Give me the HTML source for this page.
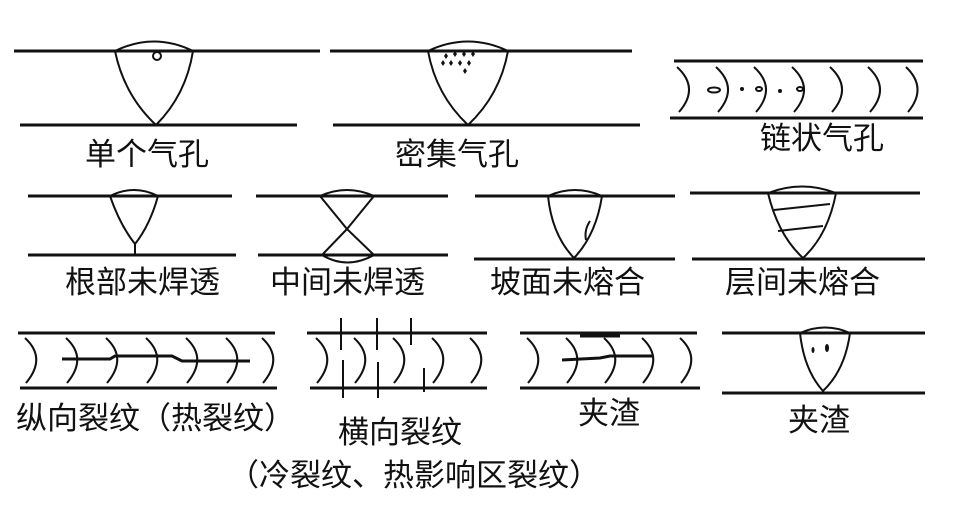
<!DOCTYPE html>
<html><head><meta charset="utf-8"><style>
html,body{margin:0;padding:0;background:#fff;}
svg{display:block;}
text{font-family:"Liberation Sans","Noto Sans CJK SC",sans-serif;font-size:31px;fill:#111;}
</style></head><body>
<svg width="979" height="525" viewBox="0 0 979 525" xmlns="http://www.w3.org/2000/svg">
<g stroke="#111" fill="none" stroke-width="3">
<line x1="14" y1="51" x2="320" y2="51"/>
<line x1="20" y1="125" x2="297" y2="125"/>
<line x1="330" y1="51" x2="632" y2="51"/>
<line x1="333" y1="125" x2="640" y2="125"/>
</g>
<g stroke="#111" fill="none" stroke-width="2">
<path d="M115 51 Q154 32 193 51 Q186 95 156 125 Q124 95 115 51"/>
<circle cx="157" cy="56" r="4"/>
<path d="M428 51 Q468 32 508 51 Q500 95 468 125 Q436 95 428 51"/>
</g>
<g fill="#111">
<path d="M446 53l2 3-2 3-2-3z M455 51l2 3-2 3-2-3z M464 51l2 3-2 3-2-3z M473 51l2 3-2 3-2-3z M451 60l2 3-2 3-2-3z M460 60l2 3-2 3-2-3z M469 60l2 3-2 3-2-3z M443 60l2 3-2 3-2-3z M465 68l2 3-2 3-2-3z"/>
</g>
<g stroke="#111" fill="none" stroke-width="3">
<line x1="674" y1="61" x2="923" y2="61"/>
<line x1="670" y1="118" x2="923" y2="118"/>
</g>
<g stroke="#111" fill="none" stroke-width="2">
<path d="M677 67 Q700 88 679 112"/>
<path d="M716 67 Q739 88 718 112"/>
<path d="M754 67 Q777 88 756 112"/>
<path d="M792 67 Q815 88 794 112"/>
<path d="M830 67 Q853 88 832 112"/>
<path d="M868 67 Q891 88 870 112"/>
<path d="M906 67 Q928 88 908 112"/>
<ellipse cx="714" cy="90" rx="6" ry="2.5"/>
<ellipse cx="759" cy="89" rx="3" ry="2"/>
<ellipse cx="800" cy="89" rx="3" ry="2"/>
</g>
<g fill="#111"><circle cx="742" cy="89" r="2"/><circle cx="780" cy="91" r="2"/></g>

<g stroke="#111" fill="none" stroke-width="3">
<line x1="28" y1="196" x2="232" y2="196"/>
<line x1="28" y1="255" x2="236" y2="255"/>
<line x1="256" y1="196" x2="448" y2="196"/>
<line x1="258" y1="255" x2="448" y2="255"/>
<line x1="475" y1="196" x2="675" y2="196"/>
<line x1="474" y1="259" x2="675" y2="259"/>
<line x1="690" y1="193" x2="920" y2="193"/>
<line x1="692" y1="259" x2="925" y2="259"/>
</g>
<g stroke="#111" fill="none" stroke-width="2">
<path d="M110 196 Q134 184 158 196 Q150 225 135 244 Q120 225 110 196"/>
<line x1="135" y1="244" x2="135" y2="255"/>
<path d="M320 196 Q347 184 374 196 L347 229 Z"/>
<path d="M347 229 L322 255 Q347 270 374 255 Z"/>
<path d="M548 196 Q575 184 602 196 Q596 235 574 258 Q552 235 548 196"/>
<path d="M590 221 Q584 230 586 240"/>
<path d="M768 193 Q802 180 836 193 Q828 235 803 258 Q778 235 768 193"/>
<path d="M774 210 L830 204"/>
<path d="M778 231 L823 226"/>
</g>

<g stroke="#111" fill="none" stroke-width="3">
<line x1="18" y1="333" x2="275" y2="333"/>
<line x1="20" y1="388" x2="277" y2="388"/>
<line x1="307" y1="333" x2="487" y2="333"/>
<line x1="310" y1="388" x2="487" y2="388"/>
<line x1="520" y1="333" x2="697" y2="333"/>
<line x1="520" y1="388" x2="700" y2="388"/>
<line x1="722" y1="333" x2="925" y2="333"/>
<line x1="722" y1="393" x2="925" y2="393"/>
</g>
<g stroke="#111" fill="none" stroke-width="2">
<path d="M25 338 Q47 358 26 383"/>
<path d="M66 338 Q88 358 67 383"/>
<path d="M106 338 Q128 358 107 383"/>
<path d="M146 338 Q168 358 147 383"/>
<path d="M186 338 Q208 358 187 383"/>
<path d="M226 338 Q248 358 227 383"/>
<path d="M262 338 Q284 358 263 383"/>
<path d="M316 338 Q338 358 317 383"/>
<path d="M354 338 Q376 358 355 383"/>
<path d="M393 338 Q415 358 394 383"/>
<path d="M432 338 Q454 358 433 383"/>
<path d="M470 338 Q492 358 471 383"/>
<path d="M527 338 Q549 358 528 383"/>
<path d="M566 338 Q588 358 567 383"/>
<path d="M604 338 Q626 358 605 383"/>
<path d="M642 338 Q664 358 643 383"/>
<path d="M680 338 Q702 358 681 383"/>
<line x1="341" y1="318" x2="341" y2="350"/>
<line x1="377" y1="318" x2="377" y2="350"/>
<line x1="411" y1="318" x2="411" y2="345"/>
<line x1="343" y1="360" x2="343" y2="398"/>
<line x1="378" y1="362" x2="378" y2="398"/>
<line x1="424" y1="368" x2="424" y2="392"/>
<path d="M800 333 Q825 322 850 333 Q845 370 823 391 Q804 370 800 333"/>
</g>
<g stroke="#111" fill="none" stroke-width="3">
<path d="M62 359 L110 359 L115 356 L172 356 L182 361 L250 361"/>
<path d="M580 336 L620 336"/>
<path d="M562 360 L600 358 L610 356 L652 356"/>
</g>
<g fill="#111"><ellipse cx="827" cy="348" rx="2" ry="4"/><ellipse cx="813" cy="350" rx="1.5" ry="3"/></g>

<text x="85" y="165">单个气孔</text>
<text x="395" y="165">密集气孔</text>
<text x="760" y="149">链状气孔</text>
<text x="65" y="293">根部未焊透</text>
<text x="270" y="293">中间未焊透</text>
<text x="490" y="293">坡面未熔合</text>
<text x="725" y="293">层间未熔合</text>
<text x="16" y="429">纵向裂纹（热裂纹）</text>
<text x="338" y="443">横向裂纹</text>
<text x="228" y="486">（冷裂纹、热影响区裂纹）</text>
<text x="578" y="424">夹渣</text>
<text x="788" y="431">夹渣</text>
</svg>
</body></html>
